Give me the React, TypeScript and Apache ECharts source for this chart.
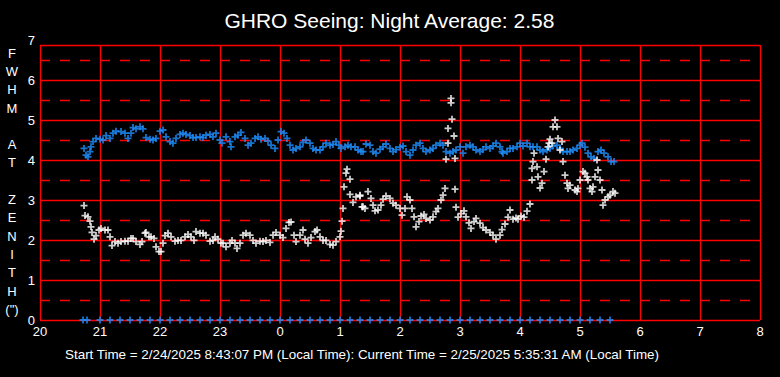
import React, { useEffect, useRef } from 'react';
import * as echarts from 'echarts';

// x values: minutes since 20:00 local time; y values: FWHM (arcsec)
const titleText = 'GHRO Seeing: Night Average: 2.58';
const footerText = 'Start Time = 2/24/2025 8:43:07 PM (Local Time): Current Time = 2/25/2025 5:35:31 AM (Local Time)';
const yAxisTitleLines = ['F', 'W', 'H', 'M', '', 'A', 'T', '', 'Z', 'E', 'N', 'I', 'T', 'H', '(")'];
const minorLevels = [0.5, 1.5, 2.5, 3.5, 4.5, 5.5, 6.5];

const blueSeries: [number, number][] = [
  [44, 4.29], [46, 4.12], [48, 4.08], [50, 4.21], [51, 4.33], [53, 4.46], [56, 4.54], [60, 4.52], [63, 4.5], [66, 4.61],
  [70, 4.54], [73, 4.67], [76, 4.72], [81, 4.71], [85, 4.67], [88, 4.54], [91, 4.67], [93, 4.81], [96, 4.78], [100, 4.83],
  [103, 4.78], [106, 4.56], [110, 4.52], [113, 4.5], [116, 4.54], [120, 4.72], [123, 4.75], [126, 4.58], [130, 4.46], [133, 4.42],
  [136, 4.54], [140, 4.64], [143, 4.67], [146, 4.64], [150, 4.61], [153, 4.56], [156, 4.56], [160, 4.58], [163, 4.56], [166, 4.62],
  [170, 4.64], [173, 4.58], [176, 4.67], [180, 4.5], [182, 4.42], [186, 4.58], [190, 4.46], [191, 4.33], [195, 4.58], [198, 4.62],
  [201, 4.69], [205, 4.54], [208, 4.37], [211, 4.42], [215, 4.54], [218, 4.58], [221, 4.52], [225, 4.54], [228, 4.47], [231, 4.37],
  [235, 4.29], [238, 4.5], [241, 4.71], [244, 4.67], [247, 4.54], [250, 4.37], [253, 4.25], [256, 4.29], [260, 4.33], [263, 4.44],
  [266, 4.5], [270, 4.42], [273, 4.29], [276, 4.25], [280, 4.25], [283, 4.33], [286, 4.42], [290, 4.37], [293, 4.39], [296, 4.46],
  [299, 4.37], [301, 4.29], [305, 4.33], [308, 4.37], [311, 4.33], [315, 4.33], [318, 4.25], [321, 4.21], [323, 4.21], [326, 4.4],
  [330, 4.37], [333, 4.21], [336, 4.17], [340, 4.27], [343, 4.33], [346, 4.4], [350, 4.29], [353, 4.21], [356, 4.26], [360, 4.32],
  [363, 4.35], [366, 4.21], [370, 4.12], [373, 4.25], [376, 4.37], [380, 4.42], [383, 4.29], [386, 4.21], [390, 4.25], [393, 4.29],
  [396, 4.37], [400, 4.42], [403, 4.37], [406, 4.21], [410, 4.17], [413, 4.21], [416, 4.25], [420, 4.33], [423, 4.17], [426, 4.33],
  [430, 4.37], [433, 4.33], [436, 4.25], [440, 4.21], [443, 4.26], [446, 4.33], [450, 4.29], [453, 4.35], [456, 4.42], [460, 4.33],
  [462, 4.21], [463, 4.17], [467, 4.21], [470, 4.29], [473, 4.29], [477, 4.33], [480, 4.42], [483, 4.35], [487, 4.42], [490, 4.33],
  [493, 4.33], [497, 4.33], [500, 4.25], [503, 4.21], [507, 4.25], [510, 4.29], [513, 4.35], [517, 4.37], [520, 4.29], [523, 4.21],
  [527, 4.21], [530, 4.21], [533, 4.25], [537, 4.29], [540, 4.37], [542, 4.42], [545, 4.32], [548, 4.17], [551, 4.08], [554, 4.04],
  [558, 4.21], [561, 4.25], [564, 4.17], [568, 4.08], [571, 3.96], [574, 3.96],
];

const whiteSeries: [number, number][] = [
  [44, 2.86], [45, 2.61], [48, 2.58], [50, 2.47], [51, 2.33], [52, 2.19], [54, 2.02], [56, 2.11], [59, 2.25], [61, 2.29],
  [65, 2.25], [68, 2.25], [70, 2.08], [72, 1.86], [75, 1.96], [78, 1.92], [81, 1.96], [85, 1.97], [88, 1.97], [91, 2.04],
  [93, 2.04], [96, 1.96], [100, 1.89], [102, 1.96], [105, 2.17], [106, 2.19], [109, 2.08], [111, 2.08], [114, 2.04], [116, 1.83],
  [119, 1.71], [121, 1.71], [123, 1.92], [125, 2.11], [128, 2.17], [131, 2.08], [135, 1.97], [138, 1.99], [141, 1.99], [145, 2.08],
  [148, 2.14], [151, 2.08], [154, 1.99], [156, 2.21], [160, 2.17], [163, 2.17], [166, 2.12], [170, 1.97], [173, 1.99], [175, 2.08],
  [178, 2.02], [181, 1.92], [183, 1.92], [186, 1.83], [190, 1.92], [192, 1.99], [195, 1.92], [197, 1.79], [200, 1.92], [203, 2.12],
  [206, 2.17], [210, 2.12], [213, 1.99], [216, 1.92], [220, 1.97], [223, 1.96], [226, 1.99], [230, 1.94], [233, 2.12], [236, 2.19],
  [240, 2.12], [243, 2.06], [246, 2.29], [249, 2.44], [251, 2.45], [254, 2.12], [256, 1.96], [260, 2.12], [263, 2.25], [265, 2.02],
  [268, 1.92], [271, 2.06], [275, 2.21], [277, 2.25], [280, 2.08], [283, 1.99], [286, 1.99], [290, 1.89], [293, 1.87], [296, 1.96],
  [300, 2.08], [301, 2.22], [302, 2.47], [303, 2.79], [304, 3.33], [306, 3.67], [307, 3.77], [310, 3.52], [310, 3.14], [313, 2.94],
  [316, 3.08], [320, 3.12], [322, 2.83], [320, 3.1], [323, 2.83], [325, 2.79], [328, 3.21], [331, 3.04], [333, 2.87], [335, 2.73],
  [338, 2.75], [341, 2.87], [343, 3.02], [346, 3.1], [350, 3.04], [353, 2.92], [356, 2.87], [360, 2.79], [362, 2.62], [365, 2.79],
  [367, 3.08], [370, 3.0], [372, 2.79], [374, 2.58], [376, 2.33], [379, 2.46], [381, 2.6], [384, 2.64], [386, 2.54], [390, 2.5],
  [393, 2.58], [396, 2.71], [398, 2.79], [401, 3.0], [403, 3.12], [405, 3.29], [406, 4.02], [408, 4.42], [408, 4.79], [412, 5.02],
  [411, 5.43], [411, 5.54], [414, 4.6], [415, 4.04], [415, 3.27], [416, 2.82], [418, 2.57], [421, 2.66], [424, 2.73], [426, 2.58],
  [429, 2.43], [431, 2.29], [434, 2.46], [436, 2.54], [440, 2.42], [443, 2.31], [446, 2.25], [450, 2.19], [453, 2.12], [456, 2.02],
  [460, 2.12], [462, 2.26], [465, 2.4], [468, 2.57], [470, 2.75], [473, 2.52], [476, 2.55], [478, 2.52], [481, 2.6], [484, 2.57],
  [487, 2.72], [490, 2.9], [492, 3.5], [492, 3.79], [493, 3.96], [494, 4.17], [497, 3.83], [498, 3.58], [500, 3.3], [502, 3.42],
  [504, 3.71], [506, 4.02], [508, 4.33], [509, 4.42], [512, 4.42], [510, 4.52], [513, 4.83], [515, 5.0], [517, 4.83], [518, 4.54],
  [522, 4.46], [520, 4.25], [523, 3.96], [525, 3.62], [527, 3.42], [528, 3.29], [530, 3.37], [535, 3.25], [537, 3.21], [538, 3.29],
  [540, 3.5], [543, 3.71], [545, 3.67], [547, 3.58], [548, 3.5], [550, 3.29], [552, 3.21], [553, 3.33], [555, 3.58], [557, 4.0],
  [558, 3.75], [560, 3.5], [562, 3.25], [563, 2.87], [565, 3.0], [568, 3.08], [570, 3.12], [573, 3.21], [575, 3.17],
];

const zeroMinutes = [
  43, 47, 60, 70, 80, 90, 100, 110, 120, 130, 140, 150, 160, 170, 180, 190, 200, 210, 220, 230, 240, 250, 260, 270, 280,
  290, 300, 310, 320, 330, 340, 350, 360, 370, 380, 390, 400, 410, 420, 430, 440, 450, 460, 470, 480, 490, 500, 510, 520,
  530, 540, 550, 560, 570,
];

const PLUS = 'path://M-0.9,-3.5H0.9V-0.9H3.5V0.9H0.9V3.5H-0.9V0.9H-3.5V-0.9H-0.9Z';
const RED = '#ff0000';
const BLUE = '#1e90ff';
const FONT = 'Liberation Sans, Arial, sans-serif';

export default function App() {
  const ref = useRef<HTMLDivElement>(null);
  useEffect(() => {
    document.body.style.margin = '0';
    document.body.style.background = '#000';
    const chart = echarts.init(ref.current!, null, { renderer: 'svg' });
    chart.setOption({
      animation: false,
      backgroundColor: '#000000',
      grid: { left: 40, right: 20, top: 45, bottom: 57, containLabel: false },
      xAxis: {
        type: 'value',
        min: 0,
        max: 720,
        interval: 60,
        axisLine: { show: false },
        axisTick: { show: false },
        splitLine: { show: true, lineStyle: { color: RED, width: 1.3 } },
        axisLabel: {
          color: '#ffffff',
          fontFamily: FONT,
          fontSize: 13,
          margin: 5,
          showMinLabel: true,
          showMaxLabel: true,
          formatter: (v: number) => String((20 + Math.round(v / 60)) % 24),
        },
      },
      yAxis: {
        type: 'value',
        min: 0,
        max: 6.875,
        interval: 1,
        axisLine: { show: false },
        axisTick: { show: false },
        splitLine: { show: true, lineStyle: { color: RED, width: 1.3 } },
        axisLabel: {
          color: '#ffffff',
          fontFamily: FONT,
          fontSize: 13,
          margin: 5,
          formatter: (v: number) => (Number.isInteger(v) ? String(v) : ''),
        },
      },
      graphic: [
        {
          type: 'text',
          left: 'center',
          top: 10,
          style: { text: titleText, fill: '#ffffff', font: `21px ${FONT}` },
        },
        {
          type: 'text',
          x: 362,
          y: 354,
          style: { text: footerText, fill: '#ffffff', font: `13.4px ${FONT}`, align: 'center', verticalAlign: 'middle' },
        },
        {
          type: 'text',
          x: 35,
          y: 40,
          style: { text: '7', fill: '#ffffff', font: `13px ${FONT}`, align: 'right', verticalAlign: 'middle' },
        },
        {
          type: 'text',
          x: 12,
          y: 44,
          style: {
            text: yAxisTitleLines.join('\n'),
            fill: '#ffffff',
            font: `13px ${FONT}`,
            lineHeight: 18.3,
            align: 'center',
            verticalAlign: 'top',
          },
        },
      ],
      series: [
        {
          type: 'scatter',
          name: 'zero',
          data: zeroMinutes.map((m) => [m, 0]),
          symbol: PLUS,
          symbolSize: 7,
          itemStyle: { color: BLUE },
          silent: true,
          z: 3,
          markLine: {
            silent: true,
            z: 1,
            symbol: ['none', 'none'],
            label: { show: false },
            lineStyle: { color: RED, width: 1.3, type: [10, 10] },
            data: minorLevels.map((v) => ({ yAxis: v })),
          },
        },
        {
          type: 'scatter',
          name: 'blue',
          data: blueSeries,
          symbol: PLUS,
          symbolSize: 7,
          itemStyle: { color: BLUE },
          silent: true,
          z: 3,
        },
        {
          type: 'scatter',
          name: 'white',
          data: whiteSeries,
          symbol: PLUS,
          symbolSize: 7,
          itemStyle: { color: '#ffffff' },
          silent: true,
          z: 4,
        },
      ],
    });
    return () => chart.dispose();
  }, []);
  return (
    <div
      ref={ref}
      style={{ position: 'absolute', left: 0, top: 0, width: 780, height: 377, background: '#000' }}
    />
  );
}
